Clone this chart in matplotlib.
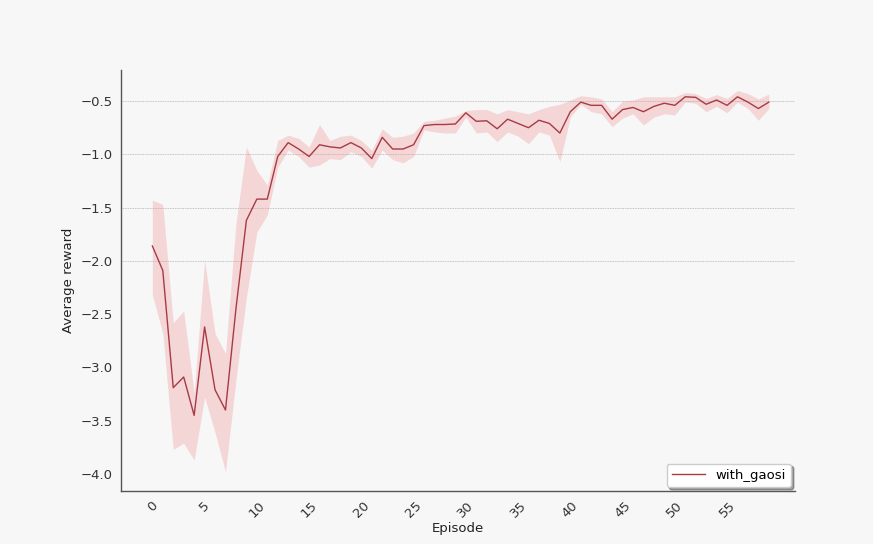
import matplotlib
matplotlib.use("Agg")
import matplotlib.pyplot as plt
import numpy as np

# --- data ---
episodes = np.arange(60)
mean_reward = [
    -1.86, -2.09, -3.19, -3.09, -3.45, -2.62, -3.21, -3.40, -2.45, -1.62,
    -1.42, -1.42, -1.02, -0.89, -0.95, -1.02, -0.91, -0.93, -0.94, -0.89,
    -0.94, -1.04, -0.84, -0.95, -0.95, -0.91, -0.73, -0.72, -0.72, -0.715,
    -0.61, -0.69, -0.685, -0.76, -0.67, -0.71, -0.75, -0.68, -0.71, -0.80,
    -0.60, -0.51, -0.54, -0.54, -0.67, -0.58, -0.56, -0.60, -0.55, -0.52,
    -0.54, -0.46, -0.465, -0.53, -0.49, -0.54, -0.46, -0.51, -0.57, -0.51,
]
upper = [
    -1.43, -1.47, -2.58, -2.47, -3.24, -1.99, -2.68, -2.87, -1.65, -0.93,
    -1.15, -1.29, -0.87, -0.82, -0.85, -0.93, -0.72, -0.87, -0.83, -0.82,
    -0.87, -0.96, -0.76, -0.84, -0.83, -0.80, -0.69, -0.68, -0.66, -0.64,
    -0.59, -0.58, -0.58, -0.62, -0.58, -0.60, -0.62, -0.58, -0.55, -0.53,
    -0.49, -0.45, -0.46, -0.48, -0.60, -0.50, -0.49, -0.46, -0.46, -0.46,
    -0.46, -0.42, -0.43, -0.475, -0.44, -0.475, -0.40, -0.43, -0.48, -0.435,
]
lower = [
    -2.32, -2.68, -3.77, -3.71, -3.87, -3.28, -3.61, -3.98, -3.12, -2.34,
    -1.73, -1.57, -1.12, -0.96, -1.02, -1.12, -1.10, -1.04, -1.05, -0.975,
    -1.02, -1.13, -0.96, -1.05, -1.08, -1.02, -0.77, -0.79, -0.80, -0.80,
    -0.65, -0.80, -0.79, -0.88, -0.79, -0.83, -0.90, -0.79, -0.82, -1.07,
    -0.65, -0.53, -0.60, -0.62, -0.74, -0.66, -0.62, -0.725, -0.65, -0.62,
    -0.63, -0.51, -0.52, -0.60, -0.55, -0.61, -0.51, -0.57, -0.68, -0.57,
]
x_ticks = list(range(0, 60, 5))
y_ticks = [-4.0, -3.5, -3.0, -2.5, -2.0, -1.5, -1.0, -0.5]
grid_levels = [-2.0, -1.5, -1.0, -0.5]
series_label = "with_gaosi"

bg = "#f7f7f7"
fig = plt.figure(figsize=(8.73, 5.44), dpi=100, facecolor=bg)
ax = fig.add_axes([0.1386, 0.0974, 0.772, 0.7736], facecolor=bg)

ax.fill_between(episodes, lower, upper, color="#f08c8c", alpha=0.3, linewidth=0)
ax.plot(episodes, mean_reward, color="#a83a46", linewidth=1.0, label=series_label)

ax.set_xlim(-3, 61.5)
ax.set_ylim(-4.16, -0.21)

# only the upper dotted grid lines are visible in the reference
ax.hlines(grid_levels, -3, 61.5, colors="#b0b0b0", linestyles=(0, (1, 1)),
          linewidth=0.6, zorder=0)

ax.set_xticks(x_ticks)
ax.set_xticklabels([str(t) for t in x_ticks], rotation=45)
ax.set_yticks(y_ticks)
ax.tick_params(axis="both", length=0, labelsize=9.5, colors="#333333", pad=6)

for side in ["top", "right"]:
    ax.spines[side].set_visible(False)
for side in ["left", "bottom"]:
    ax.spines[side].set_color("#555555")
    ax.spines[side].set_linewidth(1.0)

ax.set_xlabel("Episode", fontsize=9.5, color="#222222", labelpad=1)
ax.set_ylabel("Average reward", fontsize=9.5, color="#222222")

leg = ax.legend(loc="lower right", fontsize=9.5, frameon=True, fancybox=True,
                shadow=True, handlelength=2.5, borderaxespad=0.3)
leg.get_frame().set_facecolor("white")
leg.get_frame().set_edgecolor("#cccccc")

fig.savefig("out.png", dpi=100, facecolor=bg)
